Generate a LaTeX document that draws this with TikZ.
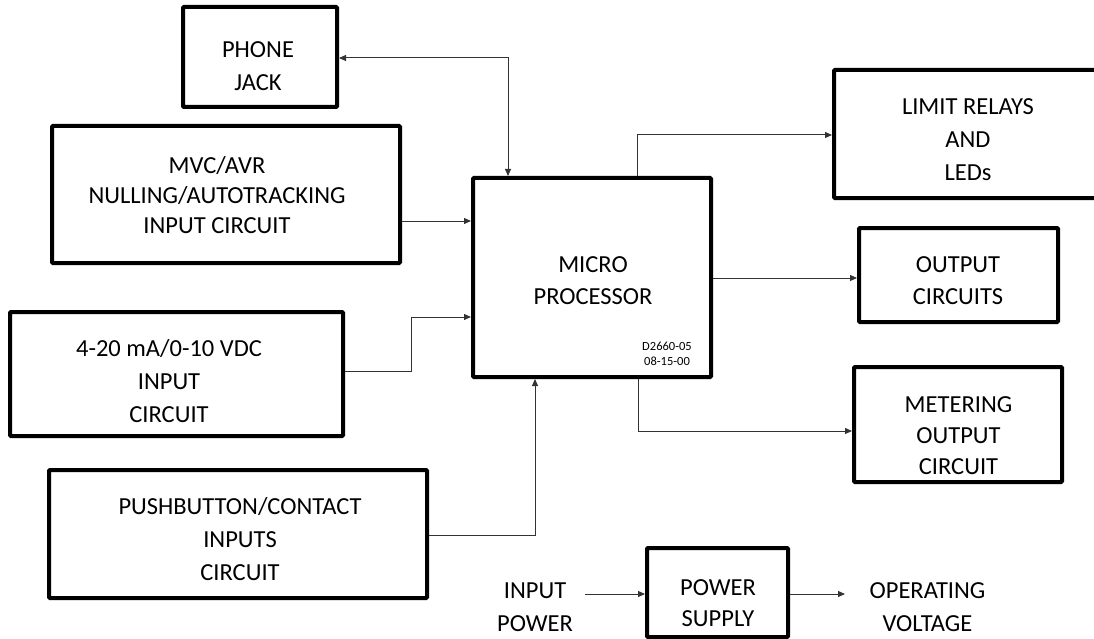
\documentclass[tikz,border=0pt]{standalone}
\usepackage{fontspec}
\setmainfont{Carlito}
\usetikzlibrary{arrows.meta,calc}
\begin{document}
\begin{tikzpicture}[x=1pt,y=-1pt,
  box/.style={draw=black,line width=4pt,rounded corners=1pt,inner sep=0pt,fill=white},
  txt/.style={align=center,font=\fontsize{24.5}{32}\selectfont,inner sep=0pt},
  small/.style={align=center,font=\fontsize{12.5}{14.5}\selectfont,inner sep=0pt},
  conn/.style={draw=black!80,line width=1pt,-{Triangle[length=7pt,width=6pt]}},
  conn2/.style={draw=black!80,line width=1pt,{Triangle[length=7pt,width=6pt]}-{Triangle[length=7pt,width=6pt]}}]
\useasboundingbox (0,0) rectangle (1094,639);
\clip (0,0) rectangle (1094,639);
\fill[white] (0,0) rectangle (1094,639);

% boxes
\node[box,minimum width=154pt,minimum height=100pt] (pj) at (260,57) {};
\node[box,minimum width=348pt,minimum height=137pt] (mvc) at (226,194.5) {};
\node[box,minimum width=333pt,minimum height=124pt] (ma) at (176.5,374) {};
\node[box,minimum width=378pt,minimum height=128pt] (pb) at (238,534) {};
\node[box,minimum width=238pt,minimum height=199pt] (mp) at (592,277.5) {};
\node[box,minimum width=276pt,minimum height=128pt] (lr) at (972,134) {};
\node[box,minimum width=199pt,minimum height=94pt] (oc) at (958.5,275) {};
\node[box,minimum width=208pt,minimum height=115pt] (mo) at (958,424.5) {};
\node[box,minimum width=141pt,minimum height=89pt] (ps) at (717.5,592.5) {};

% texts
\node[txt,font=\fontsize{24.5}{33}\selectfont] (pjt) at (258,66.5) {PHONE\\JACK};
\node[txt,font=\fontsize{24.5}{30}\selectfont] (mvct) at (217,195.5) {MVC/AVR\\NULLING/AUTOTRACKING\\INPUT CIRCUIT};
\node[txt,font=\fontsize{24.5}{33}\selectfont] (mat) at (169,381.5) {4-20 mA/0-10 VDC\\INPUT\\CIRCUIT};
\node[txt,font=\fontsize{24.5}{33}\selectfont] (pbt) at (240,539.5) {PUSHBUTTON/CONTACT\\INPUTS\\CIRCUIT};
\node[txt] (mpt) at (593,280.5) {MICRO\\PROCESSOR};
\node[small] (mpd) at (667,354) {D2660-05\\08-15-00};
\node[txt,font=\fontsize{24.5}{33}\selectfont] (lrt) at (968,140) {LIMIT RELAYS\\AND\\LEDs};
\node[txt] (oct) at (958,281) {OUTPUT\\CIRCUITS};
\node[txt,font=\fontsize{24.5}{31}\selectfont] (mot) at (958.5,436) {METERING\\OUTPUT\\CIRCUIT};
\node[txt,font=\fontsize{24.5}{31}\selectfont] (pst) at (718,603.5) {POWER\\SUPPLY};
\node[txt,font=\fontsize{24.5}{33}\selectfont] (ipt) at (535,607) {INPUT\\POWER};
\node[txt,font=\fontsize{24.5}{33}\selectfont] (opt) at (927.5,607) {OPERATING\\VOLTAGE};

\coordinate (ipin) at (585,594);
\coordinate (opout) at (845,594);

% connectors
\draw[conn2] (pj.east |- 0,58) -| (mp.north -| 508,0);
\draw[conn] (mvc.east |- 0,221) -- (mp.west |- 0,221);
\draw[conn] (ma.east |- 0,371) -- (411,371) -- (411,317) -- (mp.west |- 0,317);
\draw[conn] (pb.east |- 0,535) -| (mp.south -| 535,0);
\draw[conn] (mp.north -| 637,0) |- (lr.west |- 0,135);
\draw[conn] (mp.east |- 0,278) -- (oc.west |- 0,278);
\draw[conn] (mp.south -| 638,0) |- (mo.west |- 0,431);
\draw[conn] (ipin) -- (ps.west |- ipin);
\draw[conn] (ps.east |- opout) -- (opout);
\end{tikzpicture}
\end{document}
